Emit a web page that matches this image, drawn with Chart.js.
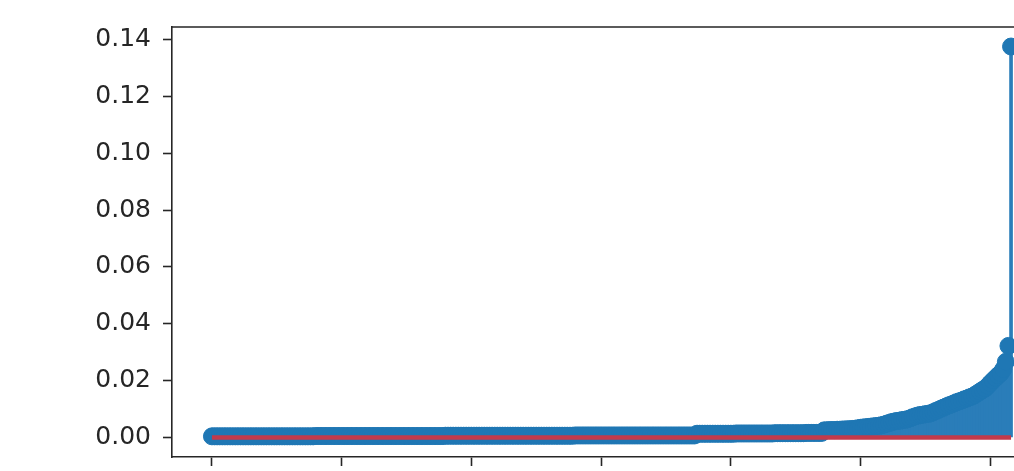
<!DOCTYPE html>
<html>
<head>
<meta charset="utf-8">
<style>
  html, body { margin: 0; padding: 0; background: #fff; overflow: hidden; }
  #wrap { width: 1100px; height: 471px; }
</style>
<script src="https://cdn.jsdelivr.net/npm/chart.js@4/dist/chart.umd.min.js"></script>
</head>
<body>
<div id="wrap"><canvas id="stem" width="1100" height="471"></canvas></div>
<script>
// Sorted weights, one per sample index (ascending).
const weights = [
  // 0-39
  0.0004,0.0004,0.0004,0.0004,0.0004,0.0004,0.0004,0.0004,0.0004,0.0004,
  0.0004,0.0004,0.0004,0.0004,0.0004,0.0004,0.0004,0.0004,0.0004,0.0004,
  0.0004,0.0004,0.0004,0.0004,0.0004,0.0004,0.0004,0.0004,0.0004,0.0004,
  0.0004,0.0004,0.0004,0.0004,0.0004,0.0004,0.0004,0.0004,0.0004,0.0004,
  // 40-89
  0.0005,0.0005,0.0005,0.0005,0.0005,0.0005,0.0005,0.0005,0.0005,0.0005,
  0.0005,0.0005,0.0005,0.0005,0.0005,0.0005,0.0005,0.0005,0.0005,0.0005,
  0.0005,0.0005,0.0005,0.0005,0.0005,0.0005,0.0005,0.0005,0.0005,0.0005,
  0.0005,0.0005,0.0005,0.0005,0.0005,0.0005,0.0005,0.0005,0.0005,0.0005,
  0.0005,0.0005,0.0005,0.0005,0.0005,0.0005,0.0005,0.0005,0.0005,0.0005,
  // 90-139
  0.0006,0.0006,0.0006,0.0006,0.0006,0.0006,0.0006,0.0006,0.0006,0.0006,
  0.0006,0.0006,0.0006,0.0006,0.0006,0.0006,0.0006,0.0006,0.0006,0.0006,
  0.0006,0.0006,0.0006,0.0006,0.0006,0.0006,0.0006,0.0006,0.0006,0.0006,
  0.0006,0.0006,0.0006,0.0006,0.0006,0.0006,0.0006,0.0006,0.0006,0.0006,
  0.0006,0.0006,0.0006,0.0006,0.0006,0.0006,0.0006,0.0006,0.0006,0.0006,
  // 140-186
  0.0007,0.0007,0.0007,0.0007,0.0007,0.0007,0.0007,0.0007,0.0007,0.0007,
  0.0007,0.0007,0.0007,0.0007,0.0007,0.0007,0.0007,0.0007,0.0007,0.0007,
  0.0007,0.0007,0.0007,0.0007,0.0007,0.0007,0.0007,0.0007,0.0007,0.0007,
  0.0007,0.0007,0.0007,0.0007,0.0007,0.0007,0.0007,0.0007,0.0007,0.0007,
  0.0007,0.0007,0.0007,0.0007,0.0007,0.0007,0.0007,
  // 187-235
  0.0013,0.0013,0.0013,0.0013,0.0013,0.0013,0.0013,0.0013,0.0013,0.0013,
  0.0013,0.0013,0.0013,0.0013,0.0013,
  0.0014,0.0014,0.0014,0.0014,0.0014,0.0014,0.0014,0.0014,0.0014,0.0014,
  0.0014,0.0014,0.0014,0.0014,0.0014,
  0.0015,0.0015,0.0015,0.0015,0.0015,0.0015,0.0015,0.0015,0.0015,0.0015,
  0.0015,0.0015,
  0.0016,0.0016,0.0016,0.0016,0.0016,0.0016,0.0016,
  // 236-249
  0.0025,0.0025,0.0026,0.0026,0.0026,0.0027,0.0027,0.0028,0.0028,0.0029,
  0.0029,0.0030,0.0031,0.0032,
  // 250-276
  0.0034,0.0035,0.0036,0.0037,0.0038,0.0039,0.0040,0.0041,
  0.0043,0.0045,0.0048,0.0051,0.0054,
  0.0056,0.0058,0.0059,0.0061,0.0062,
  0.0064,0.0067,0.0071,0.0074,
  0.0077,0.0079,0.0080,0.0082,0.0083,
  // 277-300
  0.0085,0.0089,0.0093,0.0097,0.0101,0.0105,
  0.0109,0.0113,0.0116,0.0120,0.0124,
  0.0127,0.0130,0.0134,0.0137,0.0141,
  0.0144,0.0149,0.0155,0.0161,0.0167,
  0.0172,0.0181,0.0191,
  // 301-308
  0.0200,0.0209,0.0218,0.0226,0.0240,0.0266,0.0322,0.1375
];

const xTickValues = [0, 50, 100, 150, 200, 250, 300];
const yTickValues = [0.00, 0.02, 0.04, 0.06, 0.08, 0.10, 0.12, 0.14];

const points = weights.map((v, i) => ({ x: i, y: v }));
const lastIndex = weights.length - 1;
const maxWeight = Math.max(...weights);
const xPad = lastIndex * 0.05;
const yPad = maxWeight * 0.05;

const BLUE = '#1f77b4';
const STEM = '#2a7db9';
const RED = '#c23a4b';
const INK = '#262626';

// Upper and right frame lines of the axes box.
const frameTop = {
  id: 'frameTop',
  afterDatasetsDraw(chart) {
    const { ctx, chartArea } = chart;
    ctx.save();
    ctx.strokeStyle = INK;
    ctx.lineWidth = 1.6;
    ctx.beginPath();
    ctx.moveTo(chartArea.left - 0.8, chartArea.top);
    ctx.lineTo(chartArea.right, chartArea.top);
    ctx.lineTo(chartArea.right, chartArea.bottom);
    ctx.stroke();
    ctx.restore();
  }
};

new Chart(document.getElementById('stem'), {
  type: 'bar',
  data: {
    datasets: [
      {
        type: 'line',
        label: 'baseline',
        data: [{ x: 0, y: 0 }, { x: lastIndex, y: 0 }],
        borderColor: RED,
        borderWidth: 4.5,
        pointRadius: 0,
        order: 0
      },
      {
        type: 'scatter',
        label: 'markers',
        data: points,
        pointRadius: 8.5,
        pointBorderWidth: 1,
        pointBackgroundColor: BLUE,
        pointBorderColor: BLUE,
        order: 1
      },
      {
        type: 'bar',
        label: 'stems',
        data: points,
        backgroundColor: STEM,
        barThickness: 3,
        order: 2
      }
    ]
  },
  options: {
    responsive: false,
    animation: false,
    devicePixelRatio: 1,
    layout: { padding: { left: 0, top: 27, right: 49, bottom: 0 } },
    plugins: { legend: { display: false }, tooltip: { enabled: false } },
    scales: {
      x: {
        type: 'linear',
        min: -xPad,
        max: lastIndex + xPad,
        offset: false,
        afterBuildTicks(scale) { scale.ticks = xTickValues.map(v => ({ value: v })); },
        afterFit(scale) { scale.height = 14; scale.paddingLeft = 0; scale.paddingRight = 0; },
        ticks: {
          includeBounds: false,
          padding: 9,
          color: INK,
          font: { family: 'DejaVu Sans', size: 25 }
        },
        grid: { offset: false, drawOnChartArea: false, drawTicks: true, tickLength: 9, tickColor: INK, tickWidth: 1.6 },
        border: { color: INK, width: 1.6 }
      },
      y: {
        type: 'linear',
        min: -yPad,
        max: maxWeight + yPad,
        afterBuildTicks(scale) { scale.ticks = yTickValues.map(v => ({ value: v })); },
        afterFit(scale) { scale.width = 172; scale.paddingTop = 0; scale.paddingBottom = 0; },
        ticks: {
          includeBounds: false,
          padding: 12,
          color: INK,
          font: { family: 'DejaVu Sans', size: 25 },
          callback: v => Number(v).toFixed(2)
        },
        grid: { offset: false, drawOnChartArea: false, drawTicks: true, tickLength: 9, tickColor: INK, tickWidth: 1.6 },
        border: { color: INK, width: 1.6 }
      }
    }
  },
  plugins: [frameTop]
});
</script>
</body>
</html>
